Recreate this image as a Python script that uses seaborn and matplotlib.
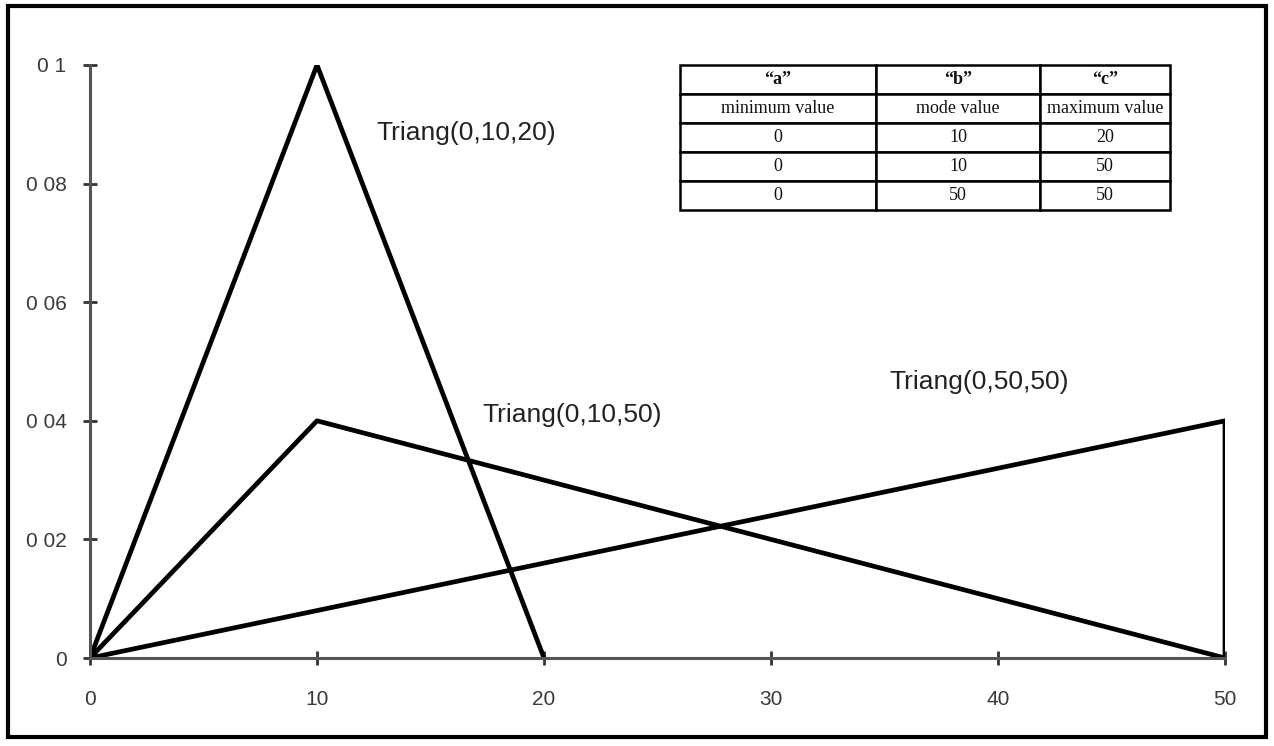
import matplotlib
matplotlib.use("Agg")
import matplotlib.pyplot as plt
import seaborn as sns
import pandas as pd
from matplotlib.patches import Rectangle

# ---- data ----
series_names = ["Triang(0,10,20)", "Triang(0,10,50)", "Triang(0,50,50)"]
x_0_10_20 = [0, 10, 20]
y_0_10_20 = [0, 0.1, 0]
x_0_10_50 = [0, 10, 50]
y_0_10_50 = [0, 0.04, 0]
x_0_50_50 = [0, 50, 50]
y_0_50_50 = [0, 0.04, 0]

x_ticks = [0, 10, 20, 30, 40, 50]
x_tick_labels = ["0", "10", "20", "30", "40", "50"]
y_ticks = [0, 0.02, 0.04, 0.06, 0.08, 0.1]
y_tick_labels = ["0", "0 02", "0 04", "0 06", "0 08", "0 1"]

table_header = ["\u201ca\u201d", "\u201cb\u201d", "\u201cc\u201d"]
table_sub = ["minimum value", "mode value", "maximum value"]
table_a = ["0", "0", "0"]
table_b = ["10", "10", "50"]
table_c = ["20", "50", "50"]

label_pos = {"Triang(0,10,20)": (12.6, 0.0885),
             "Triang(0,10,50)": (17.3, 0.0410),
             "Triang(0,50,50)": (35.2, 0.0465)}

# ---- build frame ----
rows = []
for name, xs, ys in zip(series_names,
                        [x_0_10_20, x_0_10_50, x_0_50_50],
                        [y_0_10_20, y_0_10_50, y_0_50_50]):
    for i, (xv, yv) in enumerate(zip(xs, ys)):
        rows.append({"dist": name, "x": xv, "y": yv, "order": i})
df = pd.DataFrame(rows)

sns.set_style("white")
plt.rcParams["font.family"] = ["Liberation Sans", "DejaVu Sans"]

fig = plt.figure(figsize=(12.74, 7.46), dpi=100)
ax = fig.add_axes([90 / 1274, 1 - 658 / 746, 1135 / 1274, 593 / 746])

sns.lineplot(data=df, x="x", y="y", hue="dist", units="dist", estimator=None,
             sort=False, palette=["black"] * 3, linewidth=3.4, legend=False, ax=ax)

ax.set_xlim(0, 50)
ax.set_ylim(0, 0.1)
ax.set_xticks(x_ticks)
ax.set_xticklabels(x_tick_labels)
ax.set_yticks(y_ticks)
ax.set_yticklabels(y_tick_labels)
ax.set_xlabel("")
ax.set_ylabel("")
for s in ["top", "right"]:
    ax.spines[s].set_visible(False)
for s in ["left", "bottom"]:
    ax.spines[s].set_color("#555555")
    ax.spines[s].set_linewidth(2.2)
ax.tick_params(axis="both", which="major", bottom=True, left=True,
               direction="inout", length=10, width=2, color="#333333",
               labelsize=15, labelcolor="#3a3a3a")
ax.tick_params(axis="x", pad=18)
ax.tick_params(axis="y", pad=12)
ax.patch.set_alpha(0)

for name in series_names:
    x0, y0 = label_pos[name]
    ax.text(x0, y0, name, fontsize=19, color="#222222", va="center", ha="left")

# ---- table ----
cell_text = [table_header, table_sub] + [[a, b, c] for a, b, c in zip(table_a, table_b, table_c)]
tbl = ax.table(cellText=cell_text, cellLoc="center",
               colWidths=[0.40, 0.335, 0.265],
               bbox=[(680 - 90) / 1135, (658 - 210) / 593, (1170 - 680) / 1135, (210 - 65) / 593])
tbl.auto_set_font_size(False)
for (r, c), cell in tbl.get_celld().items():
    cell.set_linewidth(1.8)
    cell.set_edgecolor("black")
    cell.PAD = 0.03
    txt = cell.get_text()
    txt.set_fontfamily(["Liberation Serif", "DejaVu Serif"])
    txt.set_fontsize(13)
    txt.set_color("#111111")
    if r == 0:
        txt.set_fontweight("bold")

# ---- outer frame ----
fig.patches.append(Rectangle((8 / 1274, 1 - 737 / 746), 1258 / 1274, 731 / 746,
                             transform=fig.transFigure, fill=False,
                             edgecolor="black", linewidth=3))

fig.savefig("out.png", dpi=100)
